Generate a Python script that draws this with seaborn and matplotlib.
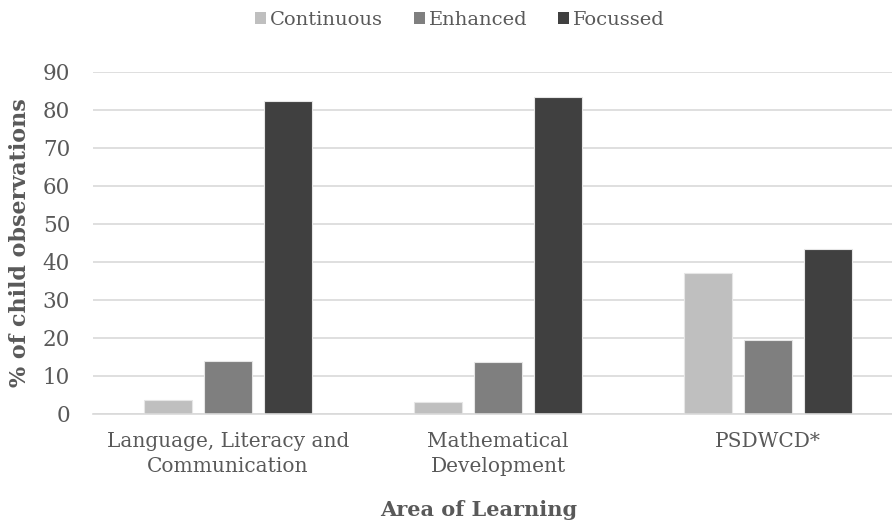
import matplotlib
matplotlib.use("Agg")
import matplotlib.pyplot as plt
import seaborn as sns
import pandas as pd
from matplotlib.patches import Patch

# Observation shares by area of learning and activity type
areas = ["Language, Literacy and\nCommunication", "Mathematical\nDevelopment", "PSDWCD*"]
series = ["Continuous", "Enhanced", "Focussed"]
continuous = [3.7, 3.2, 37.0]
enhanced = [13.9, 13.7, 19.5]
focussed = [82.3, 83.3, 43.3]
y_ticks = [0, 10, 20, 30, 40, 50, 60, 70, 80, 90]

colors = ["#BFBFBF", "#7F7F7F", "#404040"]
text_color = "#595959"
grid_color = "#D9D9D9"

rows = []
for name, vals in zip(series, [continuous, enhanced, focussed]):
    for area, v in zip(areas, vals):
        rows.append({"area": area, "type": name, "value": v})
df = pd.DataFrame(rows)

sns.set_theme(style="white")
plt.rcParams["font.family"] = ["DejaVu Serif"]

fig = plt.figure(figsize=(8.92, 5.29), dpi=100)
W, H = 892, 529
ax_left, ax_right = 93, 892
ax_bottom, ax_top = 414, 71.6
ax = fig.add_axes([ax_left / W, 1 - ax_bottom / H, (ax_right - ax_left) / W, (ax_bottom - ax_top) / H])

sns.barplot(data=df, x="area", y="value", hue="type", hue_order=series, order=areas,
            palette=colors, width=0.667, gap=0.215, ax=ax, legend=False,
            edgecolor="#E6E6E6", linewidth=0.8, saturation=1)

ax.set_ylim(0, 90)
ax.set_xlim(-0.5, 2.5 - 11 / 270)
ax.set_yticks(y_ticks)
ax.set_yticklabels([str(t) for t in y_ticks], color=text_color, fontsize=15.5)
ax.set_xticks(range(len(areas)))
ax.set_xticklabels(areas, color=text_color, fontsize=14.5, linespacing=1.4)
ax.tick_params(axis="both", length=0)
ax.tick_params(axis="y", pad=16.5)
ax.tick_params(axis="x", pad=13)
ax.set_axisbelow(True)
ax.yaxis.grid(True, color=grid_color, linewidth=1.2)
for s in ["left", "right", "top"]:
    ax.spines[s].set_visible(False)
ax.spines["bottom"].set_color(grid_color)
ax.spines["bottom"].set_linewidth(1.2)
ax.set_xlabel("")
ax.set_ylabel("")

fig.text(20 / W, 1 - 243 / H, "% of child observations", rotation=90, ha="center", va="center",
         fontsize=16, fontweight="bold", color=text_color)
fig.text(479 / W, 1 - 510 / H, "Area of Learning", ha="center", va="center",
         fontsize=15, fontweight="bold", color=text_color)

handles = [Patch(facecolor=c, edgecolor="none") for c in colors]
fig.legend(handles, series, loc="center", bbox_to_anchor=(460 / W, 1 - 20 / H), ncol=3,
           frameon=False, fontsize=14, labelcolor=text_color, handlelength=0.55,
           handleheight=0.6, handletextpad=0.2, columnspacing=1.6)

fig.savefig("out.png", dpi=100)
